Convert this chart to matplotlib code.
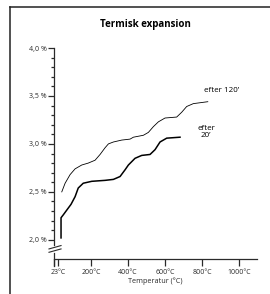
import matplotlib
matplotlib.use('Agg')
import matplotlib.pyplot as plt
from matplotlib.lines import Line2D

plt.rcParams['font.family'] = ['Open Sans', 'DejaVu Sans']

# Temperature (°C) and expansion (%)
temp_120 = [42, 60, 87, 114, 150, 185, 222, 249, 276, 294, 321, 366, 411, 429,
            483, 510, 537, 564, 600, 663, 690, 717, 753, 831]
exp_120 = [2.50, 2.59, 2.68, 2.74, 2.78, 2.80, 2.83, 2.89, 2.96, 3.00, 3.02, 3.04,
           3.05, 3.07, 3.09, 3.12, 3.18, 3.23, 3.27, 3.28, 3.33, 3.39, 3.42, 3.44]

temp_20 = [38, 38, 50, 69, 92, 114, 131, 158, 204, 276, 321, 357, 384, 402,
           438, 474, 519, 546, 573, 609, 681]
exp_20 = [2.02, 2.23, 2.26, 2.31, 2.37, 2.45, 2.54, 2.59, 2.61, 2.62, 2.63, 2.66,
          2.73, 2.78, 2.85, 2.88, 2.89, 2.94, 3.02, 3.06, 3.07]

x_ticks = [0, 23, 200, 400, 600, 800, 1000]
x_labels = ['', '23°C', '200°C', '400°C', '600°C', '800°C', '1000°C']
y_ticks = [2.0, 2.5, 3.0, 3.5, 4.0]
y_labels = ['2,0 %', '2,5 %', '3,0 %', '3,5 %', '4,0 %']
y_minor = [2.1, 2.2, 2.3, 2.4, 2.6, 2.7, 2.8, 2.9, 3.1, 3.2, 3.3, 3.4,
           3.6, 3.7, 3.8, 3.9]

axis_col = '#2a2a2a'

fig = plt.figure(figsize=(2.7, 2.94), dpi=100)
ax = fig.add_axes([54 / 270, 35 / 294, 203 / 270, 211 / 294])

ax.plot(temp_120, exp_120, color='black', lw=0.6, solid_joinstyle='round')
ax.plot(temp_20, exp_20, color='black', lw=1.1, solid_joinstyle='round')

ax.text(908, 3.552, 'efter 120’', fontsize=5.8, ha='center', va='center')
ax.text(822, 3.125, 'efter\n20’', fontsize=5.8, ha='center', va='center',
        linespacing=1.15)

ax.set_xlim(0, 1097)
ax.set_ylim(1.80, 4.0)

for s in ['top', 'right', 'left']:
    ax.spines[s].set_visible(False)
ax.spines['bottom'].set_color(axis_col)
ax.spines['bottom'].set_linewidth(0.9)

# broken y axis
ax.plot([0, 0], [1.945, 4.0], color=axis_col, lw=0.9, clip_on=False)
ax.plot([0, 0], [1.73, 1.86], color=axis_col, lw=0.9, clip_on=False)
ax.plot([-27, 38], [1.87, 1.905], color=axis_col, lw=0.8, clip_on=False)
ax.plot([-27, 38], [1.905, 1.94], color=axis_col, lw=0.8, clip_on=False)

ax.set_xticks(x_ticks)
ax.set_xticklabels(x_labels)
ax.set_yticks(y_ticks)
ax.set_yticklabels(y_labels)
ax.set_yticks(y_minor, minor=True)
ax.tick_params(axis='x', direction='out', length=5, width=0.9, colors=axis_col,
               labelsize=5, pad=2)
ax.tick_params(axis='y', which='major', direction='out', length=4.3, width=0.9,
               colors=axis_col, labelsize=5, pad=1)
ax.tick_params(axis='y', which='minor', direction='out', length=2.2, width=0.9,
               colors=axis_col)

ax.set_xlabel('Temperatur (°C)', fontsize=5.2, color=axis_col, labelpad=1.5)

fig.text(145 / 270, 1 - 25 / 294, 'Termisk expansion', fontsize=7,
         fontweight='bold', ha='center', va='center')

# frame: top and left edges
fig.add_artist(Line2D([10 / 270, 10 / 270], [0, 1 - 7 / 294],
                      transform=fig.transFigure, color='#222222', lw=1.1))
fig.add_artist(Line2D([10 / 270, 1], [1 - 7 / 294, 1 - 7 / 294],
                      transform=fig.transFigure, color='#222222', lw=1.1))

fig.savefig('out.png', dpi=100)
